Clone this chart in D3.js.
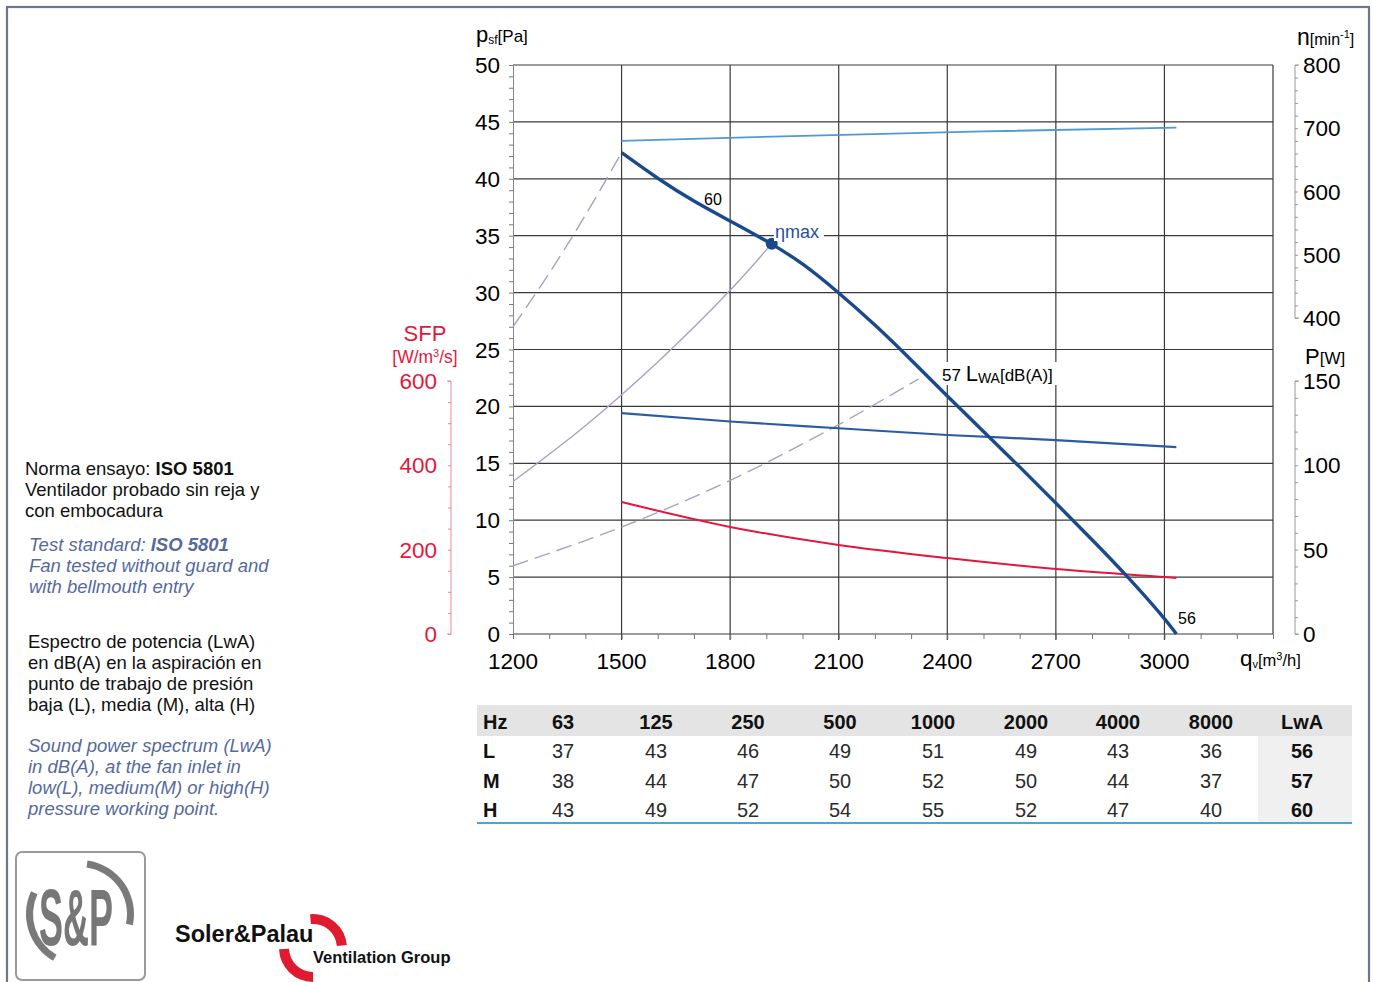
<!DOCTYPE html>
<html>
<head>
<meta charset="utf-8">
<title>Fan curve</title>
<script src="https://d3js.org/d3.v7.min.js"></script>
<style>
body { margin: 0; background: #fff; }
svg text { font-family: "Liberation Sans", Arial, sans-serif; }
.grid line { stroke: #3a3a3a; stroke-width: 1.2; }
</style>
</head>
<body>
<script>
// ---- data ----
var flowTicks = [1200, 1500, 1800, 2100, 2400, 2700, 3000];
var pressTicks = [0, 5, 10, 15, 20, 25, 30, 35, 40, 45, 50];
var rpmTicks = [400, 500, 600, 700, 800];
var powerTicks = [0, 50, 100, 150];
var sfpTicks = [0, 200, 400, 600];

// fan pressure curve q [m3/h], psf [Pa]
var pressCurve = [[1500,42.3],[1600,40.0],[1700,38.0],[1800,36.3],[1915,34.3],[2000,32.6],[2100,30.0],
  [2200,27.2],[2300,24.1],[2400,20.9],[2500,17.8],[2600,14.7],[2700,11.5],[2800,8.3],[2900,5.0],[3000,1.4],[3033,0]];
var rpmCurve = [[1500,680],[2000,688],[2500,695],[3033,701]];
var powerCurve = [[1500,131],[1800,126],[2100,122],[2400,118],[2700,115],[3033,110.8]];
var sfpCurve = [[1500,313],[1800,254],[2100,211],[2400,180],[2700,154],[3000,135],[3033,133]];
// system curves
var sysHigh = [[1200,27.0],[1300,31.7],[1400,36.8],[1500,42.3]];
var sysMid = [[1200,13.4],[1400,18.3],[1600,23.9],[1800,30.2],[1915,34.3]];
var sysLow = [[1200,6.0],[1500,9.4],[1800,13.5],[2100,18.4],[2320,22.4]];
var etaMax = [1915, 34.3];

// sound table
var hzCols = ["63", "125", "250", "500", "1000", "2000", "4000", "8000"];
var rowNames = ["L", "M", "H"];
var rowL = [37, 43, 46, 49, 51, 49, 43, 36];
var rowM = [38, 44, 47, 50, 52, 50, 44, 37];
var rowH = [43, 49, 52, 54, 55, 52, 47, 40];
var lwa = [56, 57, 60];

var W = 1373, H = 982;
var svg = d3.select("body").append("svg").attr("width", W).attr("height", H);

// page frame
svg.append("rect").attr("x", 7).attr("y", 7).attr("width", 1362).attr("height", 1000)
  .attr("fill", "none").attr("stroke", "#6f7490").attr("stroke-width", 2.2);

var x = d3.scaleLinear().domain([1200, 3300]).range([513, 1273]);
var y = d3.scaleLinear().domain([0, 50]).range([634, 65]);
var yN = d3.scaleLinear().domain([400, 800]).range([318, 65]);
var yP = d3.scaleLinear().domain([0, 150]).range([634, 381]);
var yS = d3.scaleLinear().domain([0, 600]).range([634, 381]);

// grid
var grid = svg.append("g").attr("class", "grid");
grid.selectAll("line.h").data(pressTicks.slice(1)).enter().append("line")
  .attr("x1", x(1200)).attr("x2", x(3300)).attr("y1", d => y(d)).attr("y2", d => y(d));
grid.selectAll("line.v").data(flowTicks.slice(1).concat([3300])).enter().append("line")
  .attr("x1", d => x(d)).attr("x2", d => x(d)).attr("y1", y(50)).attr("y2", d => d == 3300 ? y(0) : y(0) + 6);
grid.append("line").attr("x1", x(1200)).attr("x2", x(3300)).attr("y1", y(0)).attr("y2", y(0));

// left pressure axis
var fs = 22.5;
var axL = svg.append("g").attr("transform", "translate(" + x(1200) + ",0)")
  .call(d3.axisLeft(y).tickValues(d3.range(0, 51, 1)).tickSize(4).tickFormat(""));
axL.select(".domain").attr("stroke", "#888");
axL.selectAll(".tick line").attr("stroke", "#777");
svg.append("g").selectAll("text").data(pressTicks).enter().append("text")
  .attr("x", 500).attr("y", d => y(d) + 8).attr("text-anchor", "end")
  .attr("font-size", fs).text(d => d);

// x axis minor ticks and labels
var axB = svg.append("g").attr("transform", "translate(0," + y(0) + ")")
  .call(d3.axisBottom(x).tickValues(d3.range(1200, 3301, 100)).tickSize(5).tickFormat(""));
axB.select(".domain").remove();
axB.selectAll(".tick line").attr("stroke", "#777");
svg.append("g").selectAll("text").data(flowTicks).enter().append("text")
  .attr("x", d => x(d)).attr("y", 669).attr("text-anchor", "middle")
  .attr("font-size", fs).text(d => d);

// right rpm axis
var axN = svg.append("g").attr("transform", "translate(1295,0)")
  .call(d3.axisRight(yN).tickValues(d3.range(400, 801, 20)).tickSize(3).tickFormat(""));
axN.select(".domain").attr("stroke", "#999").attr("d", "M4," + yN(800) + "H0V" + yN(400) + "H4");
axN.selectAll(".tick line").attr("stroke", "#999");
svg.append("g").selectAll("text").data(rpmTicks).enter().append("text")
  .attr("x", 1303).attr("y", d => yN(d) + 8).attr("font-size", fs).text(d => d);

// right power axis
var axP = svg.append("g").attr("transform", "translate(1295,0)")
  .call(d3.axisRight(yP).tickValues(d3.range(0, 151, 10)).tickSize(3).tickFormat(""));
axP.select(".domain").attr("stroke", "#999").attr("d", "M4," + yP(150) + "H0V" + yP(0) + "H4");
axP.selectAll(".tick line").attr("stroke", "#999");
svg.append("g").selectAll("text").data(powerTicks).enter().append("text")
  .attr("x", 1303).attr("y", d => yP(d) + 8).attr("font-size", fs).text(d => d);

// SFP axis
var red = "#e3173e";
var axS = svg.append("g").attr("transform", "translate(451,0)")
  .call(d3.axisLeft(yS).tickValues(d3.range(0, 601, 50)).tickSize(3).tickFormat(""));
axS.select(".domain").attr("stroke", "#e68a9c").attr("d", "M-4," + yS(600) + "H0V" + yS(0) + "H-4");
axS.selectAll(".tick line").attr("stroke", "#e68a9c");
svg.append("g").selectAll("text").data(sfpTicks).enter().append("text")
  .attr("x", 437).attr("y", d => yS(d) + 8).attr("text-anchor", "end")
  .attr("font-size", fs).attr("fill", red).text(d => d);

// axis titles
var t1 = svg.append("text").attr("x", 476).attr("y", 42).attr("font-size", 17);
t1.append("tspan").attr("font-size", 22).text("p");
t1.append("tspan").attr("font-size", 12).attr("dy", 2).text("sf");
t1.append("tspan").attr("dy", -2).text("[Pa]");
var t2 = svg.append("text").attr("x", 1297).attr("y", 45).attr("font-size", 16);
t2.append("tspan").attr("font-size", 23).text("n");
t2.append("tspan").text("[min");
t2.append("tspan").attr("font-size", 11).attr("dy", -7).text("-1");
t2.append("tspan").attr("dy", 7).text("]");
var t3 = svg.append("text").attr("x", 1305).attr("y", 364).attr("font-size", 17);
t3.append("tspan").attr("font-size", 22).text("P");
t3.append("tspan").text("[W]");
var t4 = svg.append("text").attr("x", 1240).attr("y", 666).attr("font-size", 16.5);
t4.append("tspan").attr("font-size", 22.5).text("q");
t4.append("tspan").attr("font-size", 11).attr("dy", 2).text("v");
t4.append("tspan").attr("dy", -2).text("[m");
t4.append("tspan").attr("font-size", 11).attr("dy", -6).text("3");
t4.append("tspan").attr("dy", 6).text("/h]");
svg.append("text").attr("x", 425).attr("y", 341).attr("text-anchor", "middle")
  .attr("font-size", 22).attr("fill", red).text("SFP");
var t5 = svg.append("text").attr("x", 425).attr("y", 363).attr("text-anchor", "middle")
  .attr("font-size", 17.5).attr("fill", red);
t5.append("tspan").text("[W/m");
t5.append("tspan").attr("font-size", 11).attr("dy", -6).text("3");
t5.append("tspan").attr("dy", 6).text("/s]");

// curves
var line = d3.line().x(d => x(d[0])).y(d => y(d[1])).curve(d3.curveCatmullRom.alpha(0.5));
var sysCol = "#a3a3c4";
svg.append("path").attr("d", line(sysHigh)).attr("fill", "none").attr("stroke", sysCol)
  .attr("stroke-width", 1.4).attr("stroke-dasharray", "16,7");
svg.append("path").attr("d", line(sysMid)).attr("fill", "none").attr("stroke", sysCol).attr("stroke-width", 1.4);
svg.append("path").attr("d", line(sysLow)).attr("fill", "none").attr("stroke", sysCol)
  .attr("stroke-width", 1.4).attr("stroke-dasharray", "16,7");

svg.append("path").attr("d", d3.line().x(d => x(d[0])).y(d => yN(d[1])).curve(d3.curveMonotoneX)(rpmCurve))
  .attr("fill", "none").attr("stroke", "#4d9bd0").attr("stroke-width", 1.8);
svg.append("path").attr("d", d3.line().x(d => x(d[0])).y(d => yP(d[1])).curve(d3.curveMonotoneX)(powerCurve))
  .attr("fill", "none").attr("stroke", "#2b5ca2").attr("stroke-width", 2.2);
svg.append("path").attr("d", d3.line().x(d => x(d[0])).y(d => yS(d[1])).curve(d3.curveMonotoneX)(sfpCurve))
  .attr("fill", "none").attr("stroke", red).attr("stroke-width", 2);
svg.append("path").attr("d", d3.line().x(d => x(d[0])).y(d => y(d[1])).curve(d3.curveBasis)(pressCurve))
  .attr("fill", "none").attr("stroke", "#1b4a8c").attr("stroke-width", 3.4);
svg.append("circle").attr("cx", x(etaMax[0])).attr("cy", y(etaMax[1])).attr("r", 6).attr("fill", "#1b4a8c");

// curve labels
svg.append("text").attr("x", 704).attr("y", 205).attr("font-size", 16).text("60");
svg.append("rect").attr("x", 774).attr("y", 223).attr("width", 50).attr("height", 18).attr("fill", "#fff");
svg.append("text").attr("x", 775).attr("y", 238).attr("font-size", 18).attr("fill", "#1f4f9f").text("\u03b7max");
svg.append("rect").attr("x", 940).attr("y", 362).attr("width", 118).attr("height", 23).attr("fill", "#fff");
var t6 = svg.append("text").attr("x", 942).attr("y", 381).attr("font-size", 17);
t6.append("tspan").text("57 ");
t6.append("tspan").attr("font-size", 22).text("L");
t6.append("tspan").attr("font-size", 14).attr("dy", 2).text("WA");
t6.append("tspan").attr("dy", -2).text("[dB(A)]");
svg.append("text").attr("x", 1178).attr("y", 624).attr("font-size", 16).text("56");

// sound table
var colX = [563, 656, 748, 840, 933, 1026, 1118, 1211];
svg.append("rect").attr("x", 477).attr("y", 705).attr("width", 875).attr("height", 31).attr("fill", "#e4e4e4");
svg.append("rect").attr("x", 1258).attr("y", 736).attr("width", 94).attr("height", 87).attr("fill", "#f0f0f0");
svg.append("line").attr("x1", 477).attr("x2", 1352).attr("y1", 823).attr("y2", 823)
  .attr("stroke", "#4aa6da").attr("stroke-width", 2.2);
function cell(tx, ty, txt, bold, anchor) {
  svg.append("text").attr("transform", "translate(" + tx + "," + ty + ") scale(0.95,1)")
    .attr("font-size", 21).attr("font-weight", bold ? "bold" : "normal")
    .attr("text-anchor", anchor || "middle").attr("fill", bold ? "#111" : "#2a2a2a").text(txt);
}
cell(483, 729, "Hz", true, "start");
hzCols.forEach((h, i) => cell(colX[i], 729, h, true));
cell(1302, 729, "LwA", true);
[rowL, rowM, rowH].forEach((r, j) => {
  var ty = 758 + j * 29.5;
  cell(483, ty, rowNames[j], true, "start");
  r.forEach((v, i) => cell(colX[i], ty, v, false));
  cell(1302, ty, lwa[j], true);
});

// left notes
var blk = "#111", blu = "#566a9c";
function note(lines, x0, y0, col, ital) {
  lines.forEach((l, i) => {
    var t = svg.append("text").attr("x", x0).attr("y", y0 + i * 21).attr("font-size", 18.5)
      .attr("fill", col).attr("font-style", ital ? "italic" : "normal");
    l.forEach(p => t.append("tspan").attr("font-weight", p[1] ? "bold" : "normal").text(p[0]));
  });
}
note([[["Norma ensayo: ", 0], ["ISO 5801", 1]], [["Ventilador probado sin reja y", 0]], [["con embocadura", 0]]], 25, 475, blk, false);
note([[["Test standard: ", 0], ["ISO 5801", 1]], [["Fan tested without guard and", 0]], [["with bellmouth entry", 0]]], 29, 551, blu, true);
note([[["Espectro de potencia (LwA)", 0]], [["en dB(A) en la aspiraci\u00f3n en", 0]], [["punto de trabajo de presi\u00f3n", 0]], [["baja (L), media (M), alta (H)", 0]]], 28, 648, blk, false);
note([[["Sound power spectrum (LwA)", 0]], [["in dB(A), at the fan inlet in", 0]], [["low(L), medium(M) or high(H)", 0]], [["pressure working point.", 0]]], 28, 752, blu, true);

// logos
svg.append("rect").attr("x", 16).attr("y", 852).attr("width", 129).attr("height", 128).attr("rx", 6)
  .attr("fill", "#fff").attr("stroke", "#9a9a9a").attr("stroke-width", 2);
var arc = d3.arc();
var deg = Math.PI / 180;
svg.append("path").attr("transform", "translate(80,914)").attr("fill", "#7a7a7a")
  .attr("d", arc({innerRadius: 47, outerRadius: 54, startAngle: 210 * deg, endAngle: 295 * deg}));
svg.append("path").attr("transform", "translate(80,914)").attr("fill", "#7a7a7a")
  .attr("d", arc({innerRadius: 47, outerRadius: 54, startAngle: 8 * deg, endAngle: 102 * deg}));
svg.append("text").attr("transform", "translate(76,945) scale(0.45,1)").attr("text-anchor", "middle")
  .attr("font-size", 80).attr("font-weight", "bold").attr("fill", "#777").text("S&P");
svg.append("path").attr("transform", "translate(313,948)").attr("fill", "#e01b2f")
  .attr("d", arc({innerRadius: 24, outerRadius: 34, startAngle: -5 * deg, endAngle: 85 * deg}));
svg.append("path").attr("transform", "translate(313,948)").attr("fill", "#e01b2f")
  .attr("d", arc({innerRadius: 24, outerRadius: 34, startAngle: 180 * deg, endAngle: 268 * deg}));
svg.append("text").attr("x", 175).attr("y", 942).attr("font-size", 23.5).attr("font-weight", "bold")
  .attr("fill", "#111").text("Soler&Palau");
svg.append("text").attr("x", 313).attr("y", 963).attr("font-size", 16.5).attr("font-weight", "bold")
  .attr("fill", "#111").text("Ventilation Group");
</script>
</body>
</html>
